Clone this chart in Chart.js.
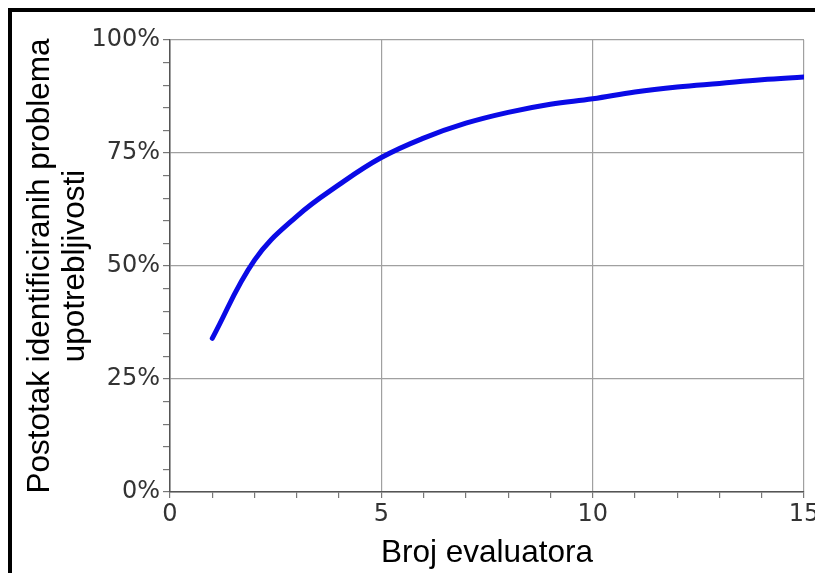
<!DOCTYPE html>
<html>
<head>
<meta charset="utf-8">
<script src="https://cdn.jsdelivr.net/npm/chart.js@4"></script>
<style>
  html, body { margin: 0; padding: 0; background: #fff; overflow: hidden; }
  #wrap { position: relative; width: 815px; height: 573px; }
  #chart { position: absolute; left: 0; top: 0; }
  #frame {
    position: absolute; left: 8px; top: 8px; right: -20px; bottom: -20px;
    border-top: 4px solid #000; border-left: 4px solid #000;
    pointer-events: none;
  }
</style>
</head>
<body>
<div id="wrap">
  <canvas id="chart" width="815" height="573"></canvas>
  <div id="frame"></div>
</div>
<script>
////////////
//// Data

let evaluators = [1, 2, 3, 4, 5, 6, 7, 8, 9, 10, 11, 12, 13, 14, 15];
let foundPct   = [34, 51.3, 61, 68, 74, 78.3, 81.6, 84, 85.8, 87, 88.5, 89.6, 90.4, 91.2, 91.8];

let yTicks = [0, 25, 50, 75, 100];
let xTicks = [0, 5, 10, 15];

let yTitle = ['Postotak identificiranih problema', 'upotrebljivosti'];
let xTitle = 'Broj evaluatora';

////////////
//// Chart

let points = [];
for (let i = 0; i < evaluators.length; ++i) {
  points.push({x: evaluators[i], y: foundPct[i]});
}

let tickFont = {family: 'DejaVu Sans', size: 24};
let titleFont = {family: 'Liberation Sans', size: 31.5};

var ctx = document.getElementById('chart').getContext('2d');
let chart = new Chart(ctx, {
  type: 'line',
  data: {
    datasets: [{
      data: points,
      borderColor: '#0a0ae6',
      borderWidth: 5,
      borderCapStyle: 'round',
      pointRadius: 0,
      tension: 0.4,
      fill: false
    }]
  },
  options: {
    responsive: false,
    animation: false,
    devicePixelRatio: 1,
    layout: {padding: {top: 40, right: 11, left: 0, bottom: 0}},
    plugins: {legend: {display: false}, tooltip: {enabled: false}},
    scales: {
      x: {
        type: 'linear',
        min: 0,
        max: 15,
        ticks: {
          stepSize: 1,
          autoSkip: false,
          maxRotation: 0,
          padding: 2,
          color: '#333',
          font: tickFont,
          callback: v => xTicks.includes(v) ? String(v) : ''
        },
        grid: {
          color: c => xTicks.includes(c.tick.value) ? '#a0a0a0' : 'transparent',
          tickColor: '#777',
          tickLength: 6,
          lineWidth: 1.2
        },
        border: {color: '#555', width: 1.5},
        title: {
          display: true,
          text: xTitle,
          color: '#000',
          font: {family: titleFont.family, size: titleFont.size, lineHeight: 1.2},
          padding: {top: 0, bottom: 1}
        },
        afterFit: s => { s.height = 81; s.paddingLeft = 0; s.paddingRight = 0; }
      },
      y: {
        min: 0,
        max: 100,
        ticks: {
          stepSize: 5,
          autoSkip: false,
          padding: 3,
          color: '#333',
          font: tickFont,
          callback: v => yTicks.includes(v) ? v + '%' : ''
        },
        grid: {
          color: c => yTicks.includes(c.tick.value) ? '#a0a0a0' : 'transparent',
          tickColor: '#777',
          tickLength: 7,
          lineWidth: 1.2
        },
        border: {color: '#555', width: 1.5},
        title: {
          display: true,
          text: yTitle,
          color: '#000',
          font: {family: titleFont.family, size: titleFont.size, lineHeight: 1.1},
          padding: {top: 23, bottom: 0}
        },
        afterFit: s => { s.width = 170; s.paddingTop = 0; s.paddingBottom = 0; }
      }
    }
  },
  plugins: [{
    id: 'whiteBg',
    beforeDraw: c => {
      let g = c.ctx;
      g.save();
      g.fillStyle = '#fff';
      g.fillRect(0, 0, c.width, c.height);
      g.restore();
    }
  }]
});
</script>
</body>
</html>
